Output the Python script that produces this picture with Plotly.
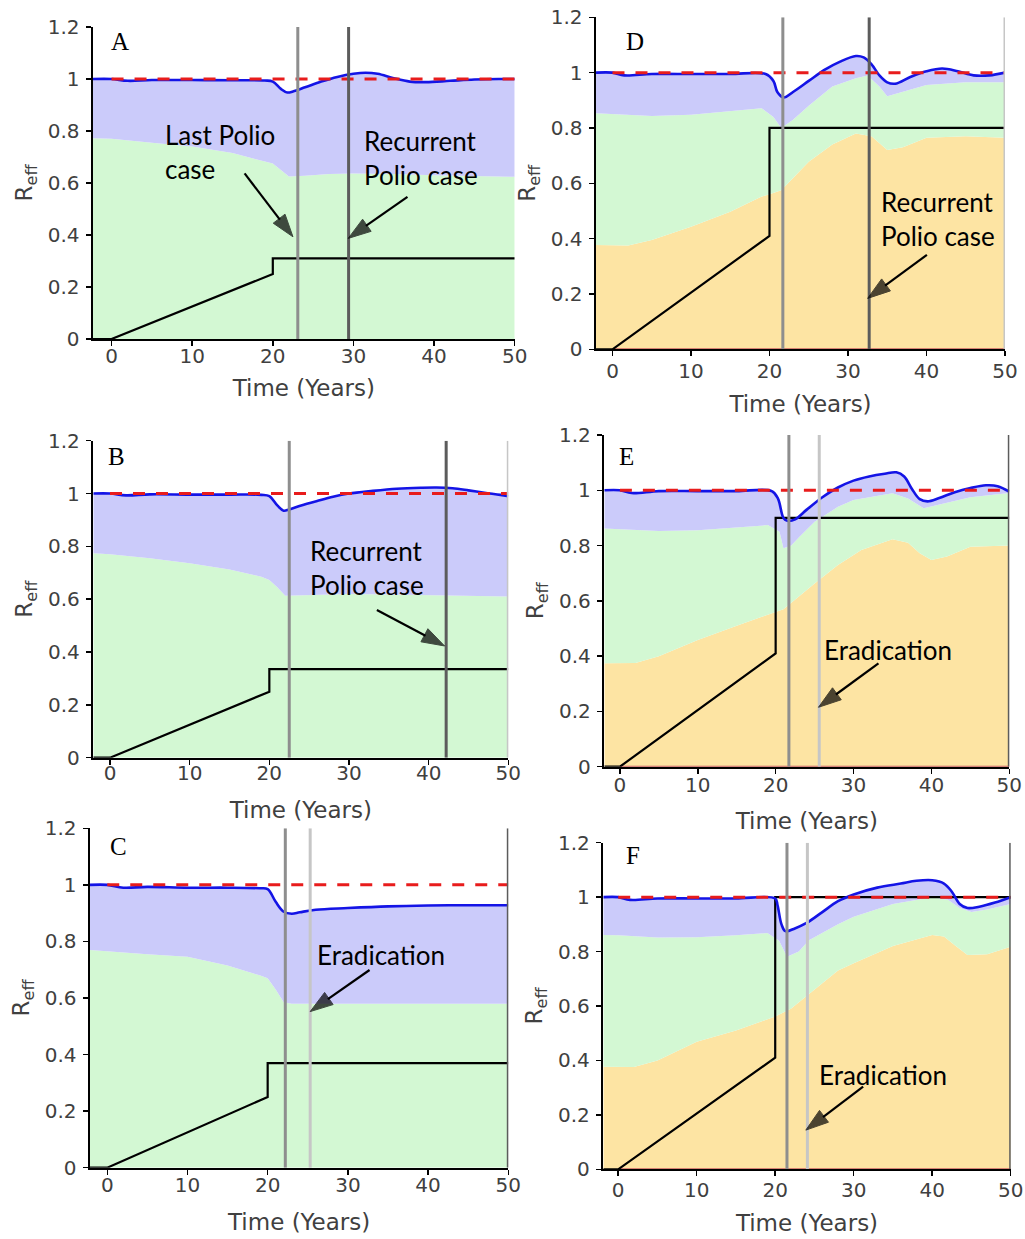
import plotly.graph_objects as go

W, H = 1025, 1239

# ---------------- data ----------------
# Panel A
A_t = [-2.3, 0, 2, 5, 10, 15, 19, 20, 21, 21.8, 22.5, 24, 26, 28, 30, 31.5, 33, 35, 37, 39, 42, 45, 48, 50]
A_reff = [1.0, 1.0, 0.993, 0.996, 0.996, 0.995, 0.994, 0.99, 0.962, 0.948, 0.952, 0.968, 0.99, 1.008, 1.02,
          1.024, 1.02, 1.003, 0.99, 0.988, 0.993, 0.998, 1.0, 1.0]
A_tg = [-2.3, 0, 5, 10, 15, 19, 20, 21, 22, 24, 27, 30, 35, 40, 45, 50]
A_green = [0.772, 0.77, 0.755, 0.74, 0.715, 0.685, 0.675, 0.65, 0.625, 0.628, 0.635, 0.637, 0.635, 0.63, 0.627, 0.624]
A_cov_t = [-2.3, 0, 20, 20, 50]
A_cov = [0, 0, 0.25, 0.31, 0.31]
A_events = [23.1, 29.4]

# Panel B
B_t = [-2.1, 0, 2, 5, 10, 15, 19, 20, 21, 21.8, 22.5, 24, 26, 28, 30, 33, 36, 39, 41, 43, 45, 47, 49, 50]
B_reff = [1.0, 1.0, 0.993, 0.997, 0.996, 0.996, 0.995, 0.99, 0.955, 0.935, 0.94, 0.955, 0.972, 0.988, 1.0,
          1.01, 1.018, 1.022, 1.023, 1.02, 1.012, 1.003, 0.995, 0.99]
B_tg = [-2.1, 0, 5, 10, 15, 19, 20, 21, 22, 25, 30, 35, 40, 45, 50]
B_green = [0.774, 0.77, 0.755, 0.736, 0.712, 0.685, 0.673, 0.645, 0.613, 0.615, 0.62, 0.618, 0.615, 0.612, 0.61]
B_cov_t = [-2.1, 0, 20, 20, 50]
B_cov = [0, 0, 0.25, 0.335, 0.335]
B_events = [22.5, 42.2, 50]

# Panel C
C_t = [-2.15, 0, 2, 5, 10, 15, 19, 20, 21, 22, 23, 24, 26, 30, 35, 40, 45, 50]
C_reff = [1.0, 1.0, 0.99, 0.993, 0.99, 0.99, 0.988, 0.985, 0.94, 0.905, 0.898, 0.903, 0.912, 0.918, 0.924,
          0.927, 0.928, 0.928]
C_tg = [-2.15, 0, 5, 10, 15, 19, 20, 21, 22, 23, 30, 40, 50]
C_green = [0.77, 0.765, 0.755, 0.746, 0.715, 0.68, 0.67, 0.63, 0.585, 0.58, 0.58, 0.58, 0.58]
C_cov_t = [-2.15, 0, 20, 20, 50]
C_cov = [0, 0, 0.25, 0.37, 0.37]
C_events = [22.2, 25.3, 50]

# Panel D
D_t = [-2.1, 0, 1.5, 5, 10, 15, 19.5, 20.5, 21, 21.8, 23, 25, 27, 29, 31, 32, 33, 34, 35, 36, 38, 40, 42, 44,
       46, 48, 50]
D_reff = [1.0, 1.0, 0.99, 0.995, 0.995, 0.995, 0.995, 0.97, 0.93, 0.91, 0.93, 0.97, 1.01, 1.04, 1.06, 1.055,
          1.03, 0.99, 0.965, 0.96, 0.985, 1.005, 1.015, 1.005, 0.99, 0.99, 1.0]
D_tg = [-2.1, 0, 5, 10, 15, 19, 20.5, 21.5, 23, 25, 28, 31, 32.5, 34, 35, 37, 40, 45, 50]
D_green = [0.853, 0.85, 0.843, 0.848, 0.86, 0.871, 0.84, 0.80, 0.83, 0.88, 0.95, 0.98, 0.99, 0.95, 0.915,
           0.93, 0.955, 0.965, 0.965]
D_to = [-2.1, 0, 2, 5, 10, 15, 19, 20, 21.5, 25, 28, 31, 33, 35, 37, 40, 45, 50]
D_orange = [0.377, 0.377, 0.375, 0.395, 0.443, 0.497, 0.552, 0.56, 0.575, 0.678, 0.74, 0.78, 0.77, 0.72,
            0.73, 0.765, 0.77, 0.765]
D_cov_t = [-2.1, 0, 20, 20, 50]
D_cov = [0, 0, 0.41, 0.80, 0.80]
D_events = [21.7, 32.7, 50]

# Panel E
E_t = [-2.0, 0, 1.5, 5, 10, 15, 19.5, 20.3, 21, 21.5, 22.5, 24, 26, 28, 30, 32, 34, 35.5, 36.5, 37.5, 38.5,
       39.5, 41, 43, 45, 47, 48.5, 50]
E_reff = [1.0, 1.0, 0.99, 0.997, 0.997, 0.997, 0.997, 0.97, 0.90, 0.89, 0.895, 0.93, 0.975, 1.01, 1.035,
          1.05, 1.06, 1.065, 1.05, 1.005, 0.968, 0.96, 0.972, 0.993, 1.008, 1.018, 1.015, 0.995]
E_tg = [-2.0, 0, 5, 10, 15, 19, 20.5, 21, 22, 23, 25, 28, 30, 35, 37, 39, 42, 45, 50]
E_green = [0.862, 0.86, 0.853, 0.855, 0.865, 0.874, 0.85, 0.79, 0.80, 0.83, 0.886, 0.94, 0.965, 0.989, 0.97,
           0.935, 0.955, 0.975, 0.99]
E_to = [-2.0, 0, 2, 5, 10, 15, 19, 21, 25, 28, 31, 35, 37, 38.5, 40, 42, 45, 50]
E_orange = [0.374, 0.374, 0.375, 0.40, 0.458, 0.51, 0.549, 0.57, 0.663, 0.73, 0.784, 0.823, 0.81, 0.772,
            0.748, 0.76, 0.796, 0.80]
E_cov_t = [-2.0, 0, 20, 20, 50]
E_cov = [0, 0, 0.41, 0.90, 0.90]
E_events = [21.7, 25.6, 50]

# Panel F
F_t = [-1.9, 0, 1.5, 5, 10, 15, 20, 20.3, 20.8, 21.3, 22.5, 24, 26, 28, 30, 33, 36, 38, 40, 41.5, 42.5, 43.5,
       44.5, 46, 48, 50]
F_reff = [1.0, 1.0, 0.99, 0.995, 0.995, 0.995, 0.995, 0.97, 0.90, 0.875, 0.885, 0.905, 0.945, 0.985, 1.01,
          1.035, 1.05, 1.06, 1.062, 1.05, 1.02, 0.975, 0.96, 0.965, 0.98, 1.0]
F_tg = [-1.9, 0, 5, 10, 15, 19, 20.5, 21.5, 23, 24.3, 28, 30, 35, 40, 42, 43.5, 45, 47, 50]
F_green = [0.861, 0.86, 0.852, 0.853, 0.86, 0.868, 0.84, 0.781, 0.80, 0.842, 0.9, 0.928, 0.975, 1.0, 0.99,
           0.96, 0.945, 0.955, 0.975]
F_to = [-1.9, 0, 2, 5, 10, 15, 20, 22, 25, 28, 30, 35, 40, 41.5, 43, 44.5, 47, 50]
F_orange = [0.377, 0.377, 0.376, 0.40, 0.469, 0.51, 0.561, 0.59, 0.659, 0.73, 0.757, 0.82, 0.861, 0.855,
            0.82, 0.787, 0.79, 0.818]
F_cov_t = [-1.9, 0, 20, 20, 50]
F_cov = [0, 0, 0.41, 1.0, 1.0]
F_events = [21.5, 24.1, 50]

threshold_t = [0, 50]
threshold = [1, 1]
x_ticks = [0, 10, 20, 30, 40, 50]
y_ticks = [0, 0.2, 0.4, 0.6, 0.8, 1.0, 1.2]
y_ticktext = ['0', '0.2', '0.4', '0.6', '0.8', '1', '1.2']

# ---------------- styles ----------------
LAV = '#cbcbfa'
GREEN = '#d3f8d3'
ORANGE = '#fde4a3'
EVENT_COL = {'mid': '#8e8e8e', 'dark': '#5c5c5c', 'light': '#c6c6c6'}
TICKFONT = dict(family='DejaVu Sans', size=20, color='#404040')
TITLEFONT = dict(family='DejaVu Sans', size=23, color='#404040')
NOTEFONT = dict(family='Lato', size=26, color='black')
LETTERFONT = dict(family='Liberation Serif', size=25, color='black')

fig = go.Figure()


def add_panel(n, t, reff, tg, green, to, orange, cov_t, cov, events, kinds, px_box, xmin, letter, letter_pos,
              xlab_off, xtitle_off):
    xa = 'x' if n == 1 else 'x%d' % n
    ya = 'y' if n == 1 else 'y%d' % n
    common = dict(xaxis=xa, yaxis=ya, hoverinfo='skip', showlegend=False)
    if orange is not None:
        fig.add_trace(go.Scatter(x=to, y=orange, mode='lines', line=dict(width=0, color=ORANGE),
                                 fill='tozeroy', fillcolor=ORANGE, **common))
        fig.add_trace(go.Scatter(x=tg, y=green, mode='lines', line=dict(width=0, color=GREEN),
                                 fill='tonexty', fillcolor=GREEN, **common))
    else:
        fig.add_trace(go.Scatter(x=tg, y=green, mode='lines', line=dict(width=0, color=GREEN),
                                 fill='tozeroy', fillcolor=GREEN, **common))
    fig.add_trace(go.Scatter(x=t, y=reff, mode='lines', line=dict(width=0, color=LAV),
                             fill='tonexty', fillcolor=LAV, **common))
    if orange is not None:
        fig.add_trace(go.Scatter(x=threshold_t, y=[0, 0], mode='lines',
                                 line=dict(width=2, color='#c86060'), **common))
    fig.add_trace(go.Scatter(x=cov_t, y=cov, mode='lines', line=dict(width=2.2, color='black'), **common))
    fig.add_trace(go.Scatter(x=t, y=reff, mode='lines', line=dict(width=2.6, color='#1414e6', shape='spline'),
                             **common))
    fig.add_trace(go.Scatter(x=threshold_t, y=threshold, mode='lines',
                             line=dict(width=3, color='#e81c1c', dash='12px,11px'), **common))
    for ev, k in zip(events, kinds):
        fig.add_trace(go.Scatter(x=[ev, ev], y=[0, 1.2], mode='lines',
                                 line=dict(width=3, color=EVENT_COL[k]), **common))

    x0, x1, ytop, ybot = px_box
    axkey = 'xaxis' if n == 1 else 'xaxis%d' % n
    aykey = 'yaxis' if n == 1 else 'yaxis%d' % n
    fig.layout[axkey] = dict(domain=[x0 / W, x1 / W], range=[xmin, 50], anchor=ya, automargin=False,
                             showline=True, linecolor='black', linewidth=2,
                             ticks='outside', ticklen=5, tickwidth=1.5, tickcolor='black',
                             tickvals=x_ticks, tickfont=TICKFONT, ticklabelstandoff=xlab_off,
                             showgrid=False, zeroline=False,
                             title=dict(text='Time (Years)', font=TITLEFONT, standoff=xtitle_off))
    fig.layout[aykey] = dict(domain=[1 - ybot / H, 1 - ytop / H], range=[0, 1.2], anchor=xa, automargin=False,
                             showline=True, linecolor='black', linewidth=2.5,
                             ticks='outside', ticklen=5, tickwidth=1.5, tickcolor='black',
                             tickvals=y_ticks, ticktext=y_ticktext, tickfont=TICKFONT,
                             ticklabelstandoff=2,
                             showgrid=False, zeroline=False,
                             title=dict(text='R<sub>eff</sub>', font=TITLEFONT, standoff=9))
    fig.add_annotation(text=letter, xref=xa + ' domain', yref=ya + ' domain', x=letter_pos[0],
                       y=letter_pos[1], showarrow=False, font=LETTERFONT, xanchor='center', yanchor='middle')
    return xa, ya


def note(xa, ya, text, x, y):
    fig.add_annotation(text=text, xref=xa, yref=ya, x=x, y=y, showarrow=False, font=NOTEFONT,
                       xanchor='left', yanchor='middle', align='left')


def arrow(xa, ya, tail, tip):
    fig.add_trace(go.Scatter(x=[tail[0], tip[0]], y=[tail[1], tip[1]], mode='lines+markers',
                             line=dict(width=2.2, color='black'),
                             marker=dict(symbol='arrow', angleref='previous', size=[0, 24], color='black',
                                         line=dict(width=1, color='black')),
                             xaxis=xa, yaxis=ya, hoverinfo='skip', showlegend=False))


# A
xa, ya = add_panel(1, A_t, A_reff, A_tg, A_green, None, None, A_cov_t, A_cov, A_events, ['mid', 'dark'],
                   (93, 514.7, 27, 339), -2.3, 'A', (0.064, 0.955), -7, 13)
note(xa, ya, 'Last Polio<br>case', 6.4, 0.72)
arrow(xa, ya, (16.5, 0.637), (22.5, 0.393))
note(xa, ya, 'Recurrent<br>Polio case', 31.0, 0.696)
arrow(xa, ya, (36.7, 0.547), (29.35, 0.387))

# D
xa, ya = add_panel(2, D_t, D_reff, D_tg, D_green, D_to, D_orange, D_cov_t, D_cov, D_events,
                   ['mid', 'dark', 'light'], (596, 1005, 17.3, 349.3), -2.1, 'D', (0.095, 0.926), -2, 14)
note(xa, ya, 'Recurrent<br>Polio case', 33.9, 0.471)
arrow(xa, ya, (40.05, 0.341), (32.5, 0.184))

# B
xa, ya = add_panel(3, B_t, B_reff, B_tg, B_green, None, None, B_cov_t, B_cov, B_events,
                   ['mid', 'dark', 'light'], (93.3, 508.3, 440.7, 757.7), -2.1, 'B', (0.055, 0.95), -9, 18)
note(xa, ya, 'Recurrent<br>Polio case', 24.8, 0.717)
arrow(xa, ya, (33.5, 0.559), (42.0, 0.423))

# E
xa, ya = add_panel(4, E_t, E_reff, E_tg, E_green, E_to, E_orange, E_cov_t, E_cov, E_events,
                   ['mid', 'light', 'dark'], (604.3, 1009.3, 435, 766.7), -2.0, 'E', (0.056, 0.935), -6, 17)
note(xa, ya, 'Eradication', 25.9, 0.422)
arrow(xa, ya, (33.2, 0.374), (25.5, 0.215))

# C
xa, ya = add_panel(5, C_t, C_reff, C_tg, C_green, None, None, C_cov_t, C_cov, C_events,
                   ['mid', 'light', 'dark'], (90, 508.3, 828.3, 1167.7), -2.15, 'C', (0.069, 0.946), -7, 18)
note(xa, ya, 'Eradication', 25.9, 0.752)
arrow(xa, ya, (32.7, 0.699), (25.3, 0.552))

# F
xa, ya = add_panel(6, F_t, F_reff, F_tg, F_green, F_to, F_orange, F_cov_t, F_cov, F_events,
                   ['mid', 'light', 'dark'], (603.3, 1010.7, 842.7, 1169.3), -1.9, 'F', (0.073, 0.962), -3, 14)
note(xa, ya, 'Eradication', 25.3, 0.346)
arrow(xa, ya, (31.2, 0.304), (23.9, 0.144))

fig.update_layout(width=W, height=H, margin=dict(l=0, r=0, t=0, b=0),
                  paper_bgcolor='white', plot_bgcolor='white', showlegend=False)

fig.write_html('out.html', config={'displayModeBar': False, 'staticPlot': True},
               post_script="document.body.style.margin='0px';document.body.style.overflow='hidden';")
